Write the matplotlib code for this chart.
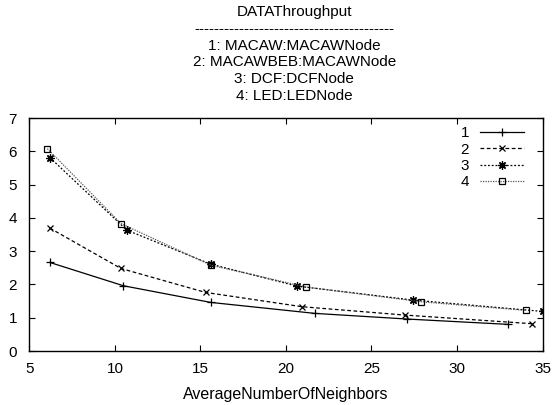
import matplotlib
matplotlib.use("Agg")
import matplotlib.pyplot as plt

plt.rcParams['font.family'] = ['Liberation Sans', 'DejaVu Sans']

title_lines = ["DATAThroughput",
               "----------------------------------------",
               "1: MACAW:MACAWNode",
               "2: MACAWBEB:MACAWNode",
               "3: DCF:DCFNode",
               "4: LED:LEDNode"]
labels = ["1", "2", "3", "4"]
x1 = [6.2, 10.5, 15.6, 21.7, 27.1, 33.0]
y1 = [2.66, 1.96, 1.46, 1.13, 0.96, 0.80]
x2 = [6.2, 10.35, 15.3, 20.95, 26.95, 34.4]
y2 = [3.69, 2.48, 1.76, 1.33, 1.08, 0.82]
x3 = [6.2, 10.7, 15.6, 20.65, 27.45, 35.0]
y3 = [5.81, 3.63, 2.61, 1.95, 1.53, 1.19]
x4 = [6.05, 10.35, 15.6, 21.2, 27.9, 34.05]
y4 = [6.08, 3.83, 2.58, 1.92, 1.48, 1.22]
xticks = [5, 10, 15, 20, 25, 30, 35]
yticks = [0, 1, 2, 3, 4, 5, 6, 7]
xlabel = "AverageNumberOfNeighbors"

FS = 11

fig = plt.figure(figsize=(5.55, 4.05), dpi=100)
ax = fig.add_axes([0.053, 0.1333, 0.9245, 0.5753])

ax.plot(x1, y1, color='black', lw=0.9, ls='-', marker='+', ms=6, mew=0.9, label=labels[0])
ax.plot(x2, y2, color='black', lw=0.9, ls=(0, (3, 2)), marker='x', ms=5, mew=0.9, label=labels[1])
ax.plot(x3, y3, color='black', lw=0.9, ls=(0, (1.5, 1.5)), marker=(8, 2, 0), ms=6, mew=0.9, label=labels[2])
ax.plot(x4, y4, color='#555555', lw=0.9, ls=(0, (1, 1)), marker='s', ms=5, mew=0.9,
        mfc='none', mec='black', label=labels[3])

ax.set_xlim(5, 35)
ax.set_ylim(0, 7)
ax.set_xticks(xticks)
ax.set_yticks(yticks)
ax.tick_params(direction='in', top=True, right=True, length=4, width=0.8, labelsize=FS)
ax.tick_params(axis='x', pad=8)
ax.tick_params(axis='y', pad=9)
for s in ax.spines.values():
    s.set_linewidth(1.0)
ax.set_xlabel(xlabel, fontsize=11.5, labelpad=8)

leg = ax.legend(loc='upper right', bbox_to_anchor=(0.985, 1.01), frameon=False,
                markerfirst=False, fontsize=FS,
                handlelength=2.9, handletextpad=0.7, labelspacing=0.15,
                borderaxespad=0.3)

ys = [0.970, 0.928, 0.887, 0.846, 0.805, 0.764]
for t, yy in zip(title_lines, ys):
    fig.text(0.53, yy, t, ha='center', va='center', fontsize=FS)

fig.savefig("out.png", dpi=100)
